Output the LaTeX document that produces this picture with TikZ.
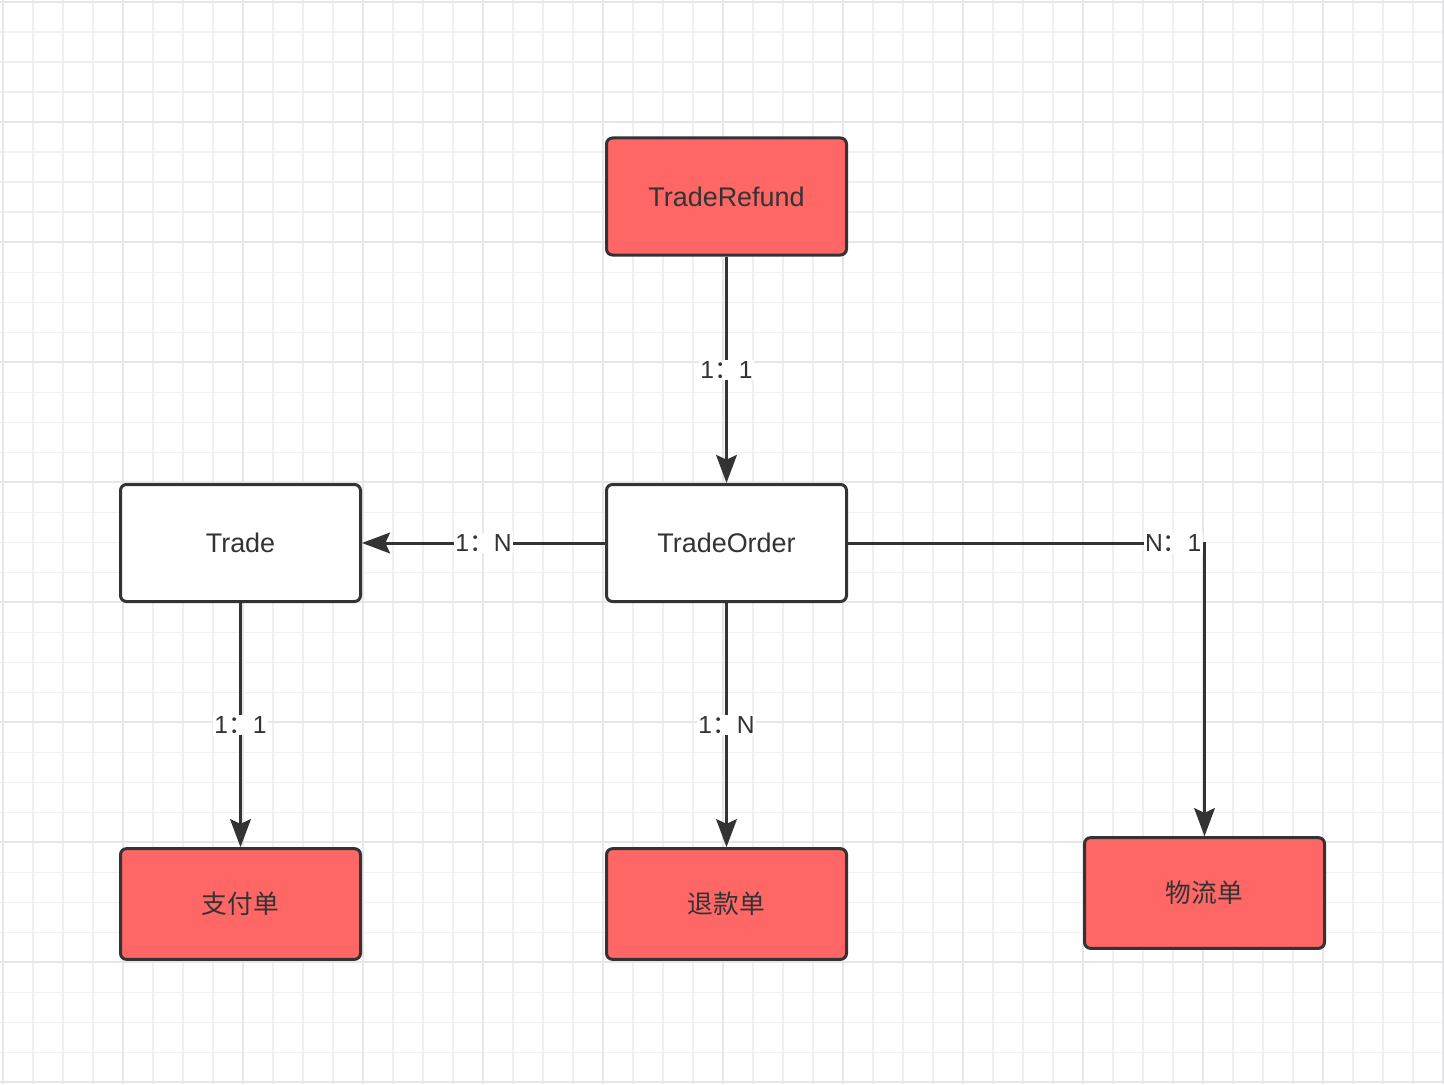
\documentclass[tikz,border=0pt]{standalone}
\usepackage{fontspec}
\setmainfont{Liberation Sans}
\newfontfamily\cjk{Noto Sans CJK SC}
\usetikzlibrary{arrows.meta}
\definecolor{ink}{HTML}{333333}
\definecolor{boxred}{HTML}{FF6666}
\definecolor{gridminor}{HTML}{F0F0F2}
\definecolor{gridmajor}{HTML}{E7E7EA}
\newcommand{\zh}[1]{{\cjk\fontsize{19.3}{22}\selectfont #1}}
\begin{document}
\begin{tikzpicture}[x=0.75pt,y=-0.75pt,
  entity/.style={draw=ink, line width=2.25pt, rounded corners=4.5pt,
    minimum width=180pt, minimum height=87.75pt, inner sep=0pt,
    text=ink, font=\fontsize{20.2}{24}\selectfont},
  plain/.style={entity, fill=white},
  red/.style={entity, fill=boxred},
  short/.style={minimum height=83pt},
  conn/.style={draw=ink, line width=2.25pt,
    -{Stealth[length=21pt,width=15.5pt,inset=3.5pt]}},
  lbl/.style={fill=white, inner sep=1pt, text=ink,
    font=\fontsize{18.5}{22}\selectfont}]
  % canvas and grid
  \useasboundingbox (0,0) rectangle (1444,1084);
  \fill[white] (0,0) rectangle (1444,1084);
  \foreach \i in {0,...,48}
    \draw[gridminor, line width=1.2pt] (2.7+30*\i,0) -- (2.7+30*\i,1084);
  \foreach \j in {0,...,36}
    \draw[gridminor, line width=1.2pt] (0,2.3+30*\j) -- (1444,2.3+30*\j);
  \foreach \i in {0,4,...,48}
    \draw[gridmajor, line width=1.5pt] (2.7+30*\i,0) -- (2.7+30*\i,1084);
  \foreach \j in {0,4,...,36}
    \draw[gridmajor, line width=1.5pt] (0,2.3+30*\j) -- (1444,2.3+30*\j);

  % entities
  \node[red]   (refund) at (726.5,196.5) {TradeRefund};
  \node[plain] (order)  at (726.5,543)   {TradeOrder};
  \node[plain] (trade)  at (240.5,543)   {Trade};
  \node[red, short] (pay)      at (240.5,904)  {\zh{支付单}};
  \node[red, short] (refunds)  at (726.5,904)  {\zh{退款单}};
  \node[red, short] (ship)     at (1204.5,893) {\zh{物流单}};

  % relations
  \draw[conn] (refund) -- node[lbl] {1{\cjk ：}1} (order);
  \draw[conn] (order) -- node[lbl] {1{\cjk ：}N} (trade);
  \draw[conn] (trade) -- node[lbl] {1{\cjk ：}1} (pay);
  \draw[conn] (order) -- node[lbl] {1{\cjk ：}N} (refunds);
  \draw[conn] (order.east) -| node[lbl, pos=0.456] {N{\cjk ：}1} (ship.north);
\end{tikzpicture}
\end{document}
